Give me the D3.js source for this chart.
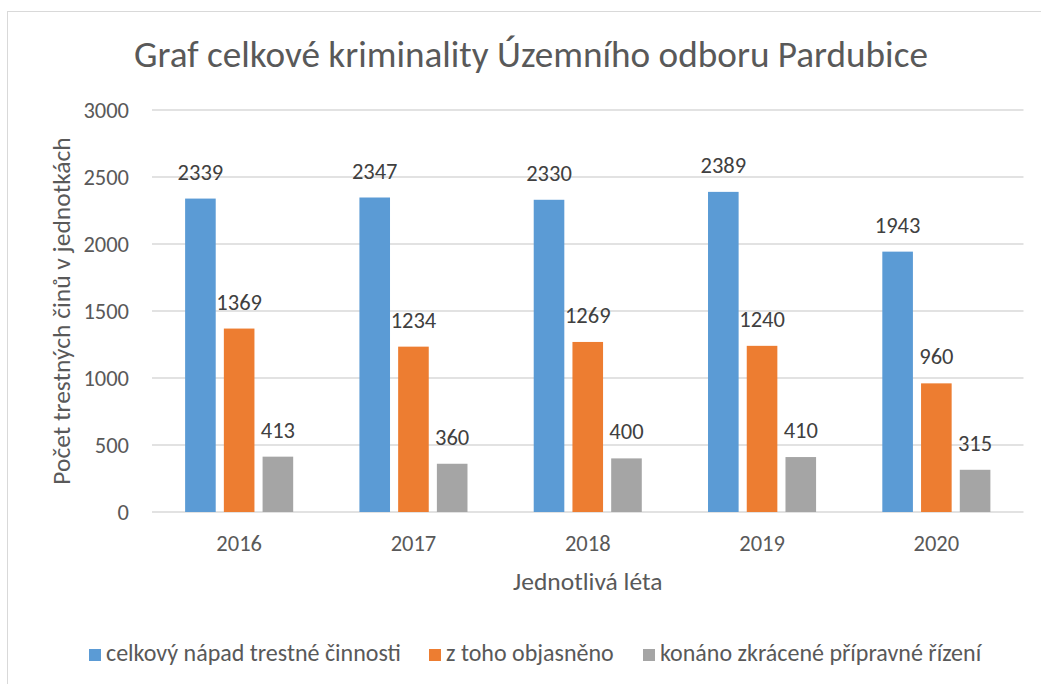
<!DOCTYPE html>
<html>
<head>
<meta charset="utf-8">
<script src="https://cdn.jsdelivr.net/npm/d3@7"></script>
<style>
  body { margin: 0; background: #fff; }
  text { font-family: Calibri, Carlito, Lato, sans-serif; }
</style>
</head>
<body>
<div id="chart"></div>
<script>
// Data
const years = ["2016", "2017", "2018", "2019", "2020"];
const seriesNames = ["celkový nápad trestné činnosti", "z toho objasněno", "konáno zkrácené přípravné řízení"];
const celkem = [2339, 2347, 2330, 2389, 1943];
const objasneno = [1369, 1234, 1269, 1240, 960];
const zkracene = [413, 360, 400, 410, 315];
const yTicks = [0, 500, 1000, 1500, 2000, 2500, 3000];
const colors = ["#5B9BD5", "#ED7D31", "#A5A5A5"];

const W = 1041, H = 684;
const plot = { left: 152, right: 1023.5, top: 110, bottom: 512 };

const svg = d3.select("#chart").append("svg")
  .attr("width", W).attr("height", H);

// rámeček grafu
svg.append("rect")
  .attr("x", 7.5).attr("y", 11.5)
  .attr("width", W + 20).attr("height", H + 20)
  .attr("fill", "#fff").attr("stroke", "#D9D9D9");

const rows = years.map((y, i) => ({ year: y, values: [celkem[i], objasneno[i], zkracene[i]] }));

// Scales
const x0 = d3.scaleBand().domain(years).range([plot.left, plot.right]);
const outer = x0.bandwidth() * 0.19;
const x1 = d3.scaleBand().domain(d3.range(3))
  .range([outer, x0.bandwidth() - outer])
  .paddingInner(0.21);
const y = d3.scaleLinear().domain([0, 3000]).range([plot.bottom, plot.top]);

// Mřížka
svg.append("g")
  .selectAll("line")
  .data(yTicks)
  .enter().append("line")
    .attr("x1", plot.left).attr("x2", plot.right)
    .attr("y1", d => y(d)).attr("y2", d => y(d))
    .attr("stroke", "#D9D9D9").attr("stroke-width", 1.3);

// Osa Y
const yAxis = svg.append("g")
  .attr("transform", `translate(${plot.left},0)`)
  .call(d3.axisLeft(y).tickValues(yTicks).tickFormat(d3.format("d")).tickSize(0).tickPadding(23));
yAxis.select(".domain").remove();
yAxis.selectAll("text")
  .attr("fill", "#595959")
  .style("font-size", "22.5px");

// Osa X
const xAxis = svg.append("g")
  .attr("transform", `translate(0,${plot.bottom})`)
  .call(d3.axisBottom(x0).tickSize(0).tickPadding(23));
xAxis.select(".domain").remove();
xAxis.selectAll("text")
  .attr("fill", "#595959")
  .style("font-size", "22.5px");

// Sloupce
const groups = svg.selectAll(".group")
  .data(rows)
  .enter().append("g")
    .attr("class", "group")
    .attr("transform", d => `translate(${x0(d.year)},0)`);

groups.selectAll("rect")
  .data(d => d.values.map((v, i) => ({ v, i })))
  .enter().append("rect")
    .attr("x", d => x1(d.i))
    .attr("y", d => y(d.v))
    .attr("width", x1.bandwidth())
    .attr("height", d => y(0) - y(d.v))
    .attr("fill", d => colors[d.i]);

// Popisky hodnot
groups.selectAll(".label")
  .data(d => d.values.map((v, i) => ({ v, i })))
  .enter().append("text")
    .attr("class", "label")
    .attr("x", d => x1(d.i) + x1.bandwidth() / 2)
    .attr("y", d => y(d.v) - 19)
    .attr("text-anchor", "middle")
    .attr("fill", "#404040")
    .style("font-size", "22.5px")
    .text(d => d.v);

// Nadpis
svg.append("text")
  .attr("x", 531).attr("y", 67)
  .attr("text-anchor", "middle")
  .attr("fill", "#595959")
  .style("font-size", "37.2px")
  .text("Graf celkové kriminality Územního odboru Pardubice");

// Popisky os
svg.append("text")
  .attr("transform", `translate(70,${(plot.top + plot.bottom) / 2}) rotate(-90)`)
  .attr("text-anchor", "middle")
  .attr("fill", "#595959")
  .style("font-size", "25.5px")
  .text("Počet trestných činů v jednotkách");

svg.append("text")
  .attr("x", (plot.left + plot.right) / 2).attr("y", 590)
  .attr("text-anchor", "middle")
  .attr("fill", "#595959")
  .style("font-size", "25.5px")
  .text("Jednotlivá léta");

// Legenda
const legendX = [89, 429, 643];
const legend = svg.selectAll(".legend")
  .data(seriesNames)
  .enter().append("g")
    .attr("class", "legend")
    .attr("transform", (d, i) => `translate(${legendX[i]},649)`);
legend.append("rect")
  .attr("width", 12).attr("height", 12)
  .attr("fill", (d, i) => colors[i]);
legend.append("text")
  .attr("x", 17).attr("y", 12)
  .attr("fill", "#595959")
  .style("font-size", "24px")
  .text(d => d);
</script>
</body>
</html>
